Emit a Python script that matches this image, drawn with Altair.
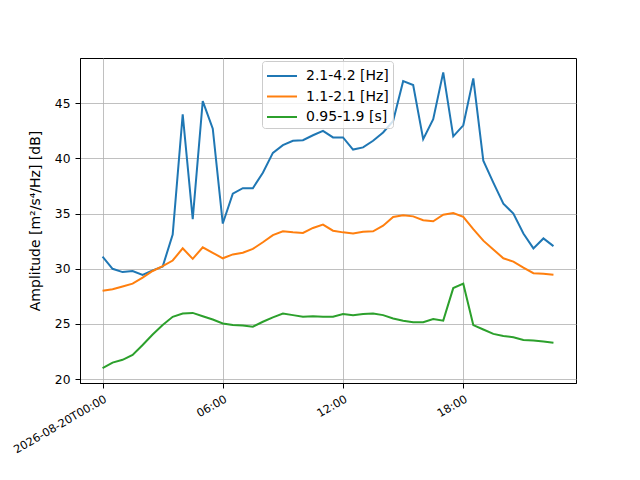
import altair as alt
import pandas as pd

series_names = ["2.1-4.2 [Hz]", "1.1-2.1 [Hz]", "0.95-1.9 [s]"]
colors = ["#1f77b4", "#ff7f0e", "#2ca02c"]

times = pd.date_range("2026-08-20T00:00:00", periods=46, freq="30min")

band_hi = [31.1, 30.0, 29.7, 29.8, 29.45, 29.85, 30.2, 33.1, 44.0, 34.5,
           45.2, 42.7, 34.1, 36.8, 37.3, 37.3, 38.7, 40.5, 41.2, 41.6,
           41.65, 42.1, 42.5, 41.9, 41.9, 40.8, 41.0, 41.6, 42.35, 43.4,
           47.0, 46.65, 41.75, 43.55, 47.8, 42.0, 43.0, 47.25, 39.8, 37.8,
           35.9, 35.0, 33.2, 31.85, 32.75, 32.05]
band_mid = [28.0, 28.15, 28.4, 28.65, 29.2, 29.8, 30.25, 30.75, 31.85, 30.9,
            31.95, 31.45, 30.95, 31.3, 31.45, 31.8, 32.4, 33.05, 33.4, 33.3,
            33.25, 33.7, 34.0, 33.45, 33.3, 33.2, 33.35, 33.4, 33.9, 34.7,
            34.85, 34.75, 34.4, 34.3, 34.9, 35.05, 34.7, 33.6, 32.55, 31.75,
            30.95, 30.65, 30.1, 29.6, 29.55, 29.45]
band_lo = [21.0, 21.5, 21.75, 22.2, 23.1, 24.05, 24.9, 25.65, 25.95, 26.0,
           25.7, 25.4, 25.05, 24.9, 24.85, 24.75, 25.2, 25.6, 25.95, 25.8,
           25.65, 25.7, 25.65, 25.65, 25.9, 25.8, 25.9, 25.95, 25.8, 25.5,
           25.3, 25.15, 25.15, 25.45, 25.3, 28.25, 28.65, 24.9, 24.5, 24.1,
           23.9, 23.8, 23.55, 23.5, 23.4, 23.3]

rows = []
for name, vals in zip(series_names, [band_hi, band_mid, band_lo]):
    for t, v in zip(times, vals):
        rows.append({"time": t.strftime("%Y-%m-%dT%H:%M:%S"), "value": v, "series": name})
df = pd.DataFrame(rows)

FONT = "DejaVu Sans"

x_domain = [alt.DateTime(year=2026, month=8, date=19, hours=22, minutes=52, seconds=30),
            alt.DateTime(year=2026, month=8, date=20, hours=23, minutes=37, seconds=30)]
x_ticks = [alt.DateTime(year=2026, month=8, date=20, hours=h) for h in [0, 6, 12, 18]]

chart = alt.Chart(df).mark_line(strokeWidth=2, clip=True).encode(
    x=alt.X("time:T",
            scale=alt.Scale(domain=x_domain, nice=False),
            axis=alt.Axis(values=x_ticks, format="%H:%M", title=None,
                          labelExpr="hours(datum.value)==0 ? '2026-08-20T00:00' : datum.label",
                          labelAngle=330, labelAlign="right", labelBaseline="top",
                          labelFontSize=11.3, labelPadding=5)),
    y=alt.Y("value:Q",
            scale=alt.Scale(domain=[19.65, 49.1], nice=False, zero=False),
            axis=alt.Axis(values=[20, 25, 30, 35, 40, 45],
                          title="Amplitude [m²/s⁴/Hz] [dB]", titlePadding=12)),
    color=alt.Color("series:N",
                    scale=alt.Scale(domain=series_names, range=colors),
                    sort=series_names,
                    legend=alt.Legend(title=None, orient="none", legendX=182, legendY=3,
                                      symbolType="M-1.5,0H1.5", symbolSize=400,
                                      symbolStrokeWidth=2, symbolOffset=5,
                                      labelFontSize=14,
                                      labelFont=FONT, labelColor="black",
                                      fillColor="rgba(255,255,255,0.8)",
                                      strokeColor="#cccccc", cornerRadius=3,
                                      padding=4, rowPadding=2.5, labelOffset=13)),
).properties(
    width=496, height=325,
    autosize=alt.AutoSizeParams(type="none"),
    padding={"left": 72, "top": 50, "right": 56, "bottom": 90},
).configure_view(
    stroke="black", strokeWidth=1
).configure_axis(
    labelFont=FONT, titleFont=FONT, labelFontSize=12.3, titleFontSize=14,
    titleFontWeight="normal", labelColor="black", titleColor="black",
    domainColor="black", tickColor="black", tickSize=5, labelPadding=5,
    gridColor="#b0b0b0", gridWidth=0.8, grid=True,
)

chart.save("out.html", embed_options={"renderer": "svg", "actions": False})
